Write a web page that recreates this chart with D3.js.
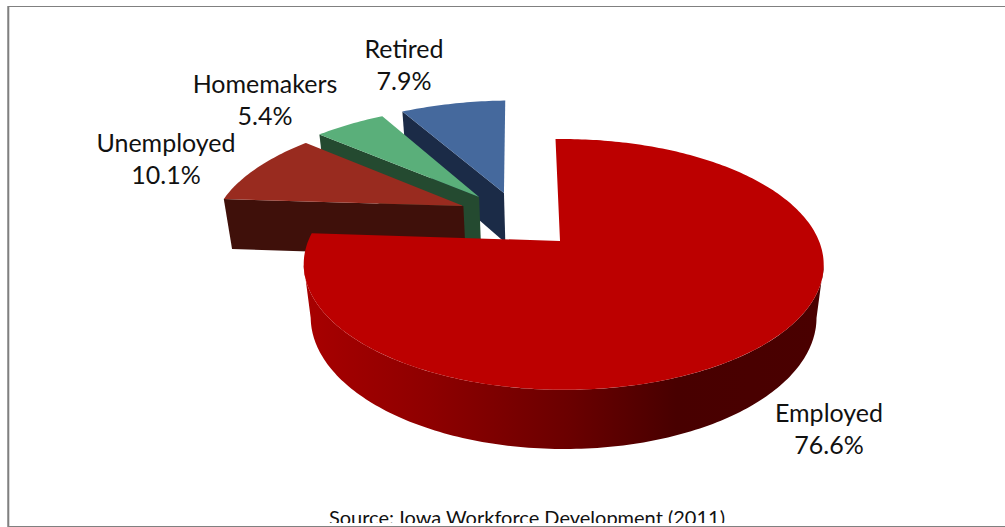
<!doctype html>
<html>

<head>
	<title>Iowa labor force pie</title>
	<script src="https://d3js.org/d3.v7.min.js"></script>
	<style>
		html, body { margin: 0; padding: 0; background: #fff; overflow: hidden; }
		svg { display: block; }
		text { font-family: Lato, "Open Sans", sans-serif; fill: #111; }
	</style>
</head>

<body>
	<script>

		var categories = ["Employed", "Unemployed", "Homemakers", "Retired"];
		var shares = [76.6, 10.1, 5.4, 7.9];
		var source = "Source: Iowa Workforce Development (2011)";

		var width = 1005;
		var height = 527;

		// slice styling and how far each slice is pulled out of the pie
		var topColors = ["#bc0000", "#992b1f", "#5aaf7a", "#45699d"];
		var wallColors = [null, "#3f100a", "#244a30", "#1b2b47"];
		var explode = [[0, 0], [-0.4, 0.305], [-0.34, 0.39], [-0.237, 0.428]];
		var rimShift = [0.014, 0, 0, 0];
		var radii = [1, 1.01, 1.03, 1.055];
		var labelSpots = [[829, 422], [166, 152], [265, 93], [404, 58]];

		// perspective view of the tilted disc
		var k = 0.187, shrink = 0.027, depth = 0.444;
		var xScale = d3.scaleLinear().domain([0, 1]).range([560, 815.4]);
		var yScale = d3.scaleLinear().domain([-1, 1]).range([120, 362]);

		function project(X, Z, floor) {
			var w = 1 + k * Z + shrink * floor;
			return [xScale(X / w), yScale((-Z + depth * floor) / w)];
		}

		function rim(a, i, floor) {
			return project(explode[i][0] + rimShift[i] + radii[i] * Math.sin(a), explode[i][1] + radii[i] * Math.cos(a), floor);
		}

		var startAngle = -2 * Math.PI / 180;
		var arcs = d3.pie().sort(null).value(function (d) { return d; })
			.startAngle(startAngle).endAngle(startAngle + 2 * Math.PI)(shares);

		var line = d3.line();
		var step = Math.PI / 180;

		var svg = d3.select("body").append("svg")
			.attr("width", width)
			.attr("height", height);

		// shading of the curved side, left to right
		var shadeStops = [[303, "#a80000"], [430, "#8e0000"], [570, "#6a0000"], [676, "#480000"], [824, "#4a0000"]];
		svg.append("linearGradient")
			.attr("id", "wall")
			.attr("gradientUnits", "userSpaceOnUse")
			.attr("x1", 303).attr("x2", 824).attr("y1", 0).attr("y2", 0)
			.selectAll("stop")
			.data(shadeStops)
			.enter()
				.append("stop")
				.attr("offset", function (d) { return (d[0] - 303) / (824 - 303); })
				.attr("stop-color", function (d) { return d[1]; });

		// back slices first, Employed last so that it covers them
		[3, 2, 1, 0].forEach(function (i) {
			var d = arcs[i], off = explode[i];
			var angles = d3.range(d.startAngle, d.endAngle, step).concat([d.endAngle]);

			if (i === 0) {
				// curved side between the two silhouette points of the disc
				var edge = Math.acos(-k);
				var side = d3.range(edge, 2 * Math.PI - edge, step).concat([2 * Math.PI - edge]);
				var upper = side.map(function (a) { return rim(a, i, 0); });
				var lower = side.map(function (a) { return rim(a, i, 1); }).reverse();
				svg.append("path")
					.attr("d", line(upper.concat(lower)) + "Z")
					.attr("fill", "url(#wall)");
			} else {
				// cut face towards the viewer
				var apexTop = project(off[0], off[1], 0);
				var apexLow = project(off[0], off[1], 1);
				svg.append("path")
					.attr("d", line([rim(d.startAngle, i, 0), apexTop, apexLow, rim(d.startAngle, i, 1)]) + "Z")
					.attr("fill", wallColors[i]);
			}

			var face = angles.map(function (a) { return rim(a, i, 0); });
			face.push(project(off[0], off[1], 0));
			svg.append("path")
				.attr("d", line(face) + "Z")
				.attr("fill", topColors[i]);
		});

		// labels
		svg.selectAll("g.label")
			.data(categories)
			.enter()
				.append("g")
				.attr("class", "label")
				.attr("transform", function (d, i) { return "translate(" + labelSpots[i] + ")"; })
				.each(function (d, i) {
					var g = d3.select(this);
					g.append("text").attr("text-anchor", "middle").attr("font-size", 25).text(d);
					g.append("text").attr("text-anchor", "middle").attr("font-size", 25).attr("y", 32).text(shares[i].toFixed(1) + "%");
				});

		// source line is cut off by the picture edge
		svg.append("clipPath").attr("id", "cut")
			.append("rect").attr("x", 0).attr("y", 0).attr("width", width).attr("height", 523);
		svg.append("text")
			.attr("clip-path", "url(#cut)")
			.attr("x", 527)
			.attr("y", 525)
			.attr("text-anchor", "middle")
			.attr("font-size", 20)
			.text(source);

		// frame
		svg.append("path")
			.attr("d", "M8.3,527V6.5H1005M8.3,526.5H1005")
			.attr("fill", "none")
			.attr("stroke", "#808080")
			.attr("stroke-width", 1);
		svg.append("path")
			.attr("d", "M8.3,6V527")
			.attr("fill", "none")
			.attr("stroke", "#808080")
			.attr("stroke-width", 2);

	</script>
</body>

</html>
